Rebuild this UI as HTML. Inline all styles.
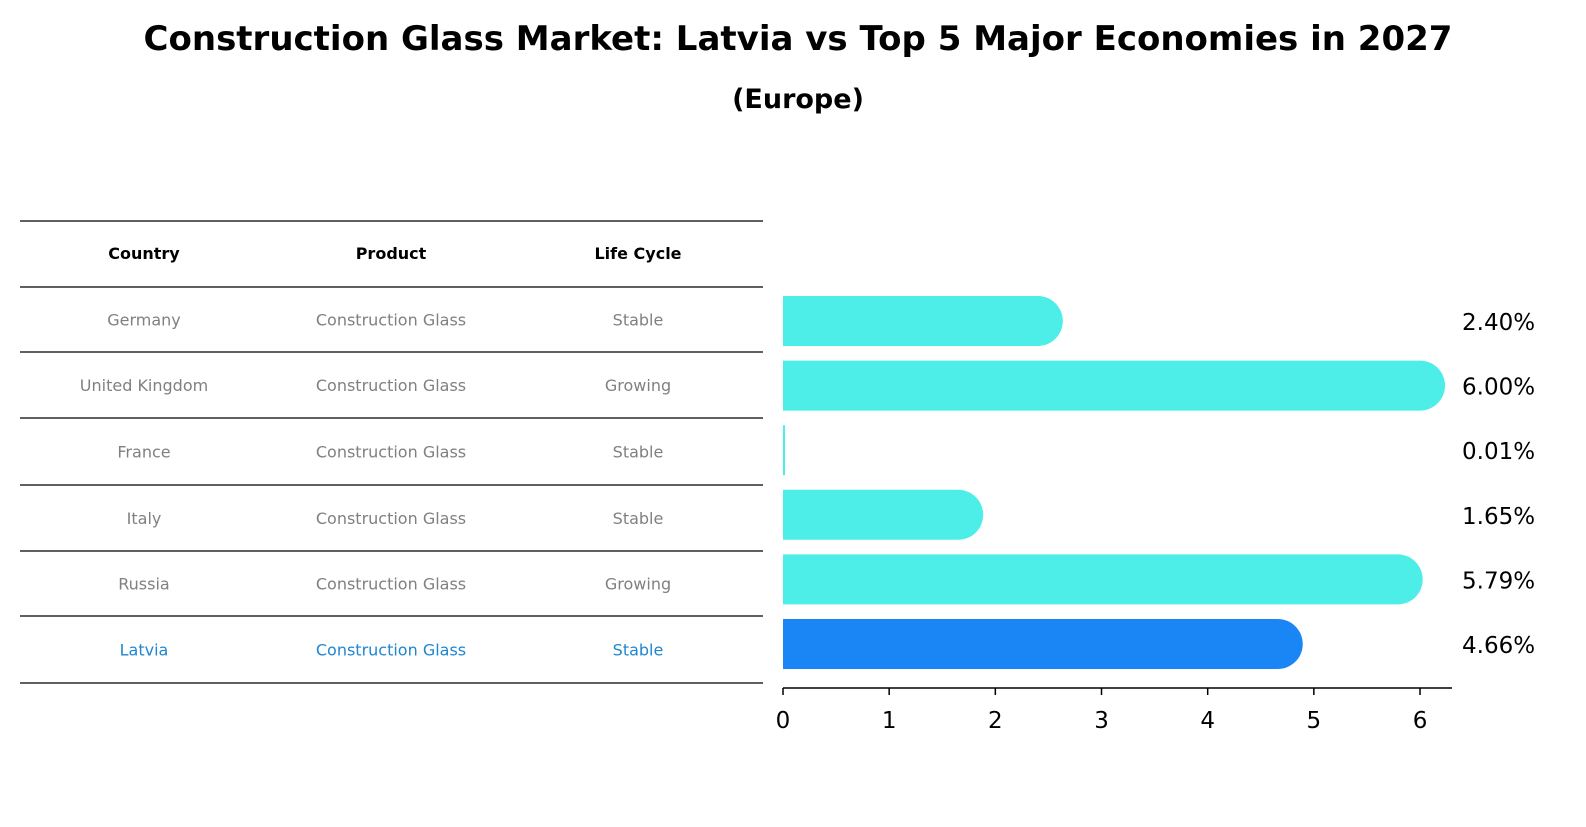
<!DOCTYPE html>
<html><head><meta charset="utf-8"><style>
body{margin:0;background:#fff;font-family:"DejaVu Sans","Liberation Sans",sans-serif;}
svg text{font-family:"DejaVu Sans","Liberation Sans",sans-serif;}
</style></head><body>
<svg id="c" width="1586" height="823" xmlns="http://www.w3.org/2000/svg">
<text x="798" y="50" text-anchor="middle" font-size="34" font-weight="bold">Construction Glass Market: Latvia vs Top 5 Major Economies in 2027</text>
<text x="798" y="108" text-anchor="middle" font-size="27" font-weight="bold">(Europe)</text>
<g id="table"></g>
<g id="bars"></g>
</svg>
<script>
const countries=["Germany","United Kingdom","France","Italy","Russia","Latvia"];
const products=["Construction Glass","Construction Glass","Construction Glass","Construction Glass","Construction Glass","Construction Glass"];
const lifecycles=["Stable","Growing","Stable","Stable","Growing","Stable"];
const values=[2.40,6.00,0.01,1.65,5.79,4.66];
const ticks=[0,1,2,3,4,5,6];
const NS="http://www.w3.org/2000/svg";
function mk(tag,attrs,parent,txt){const e=document.createElementNS(NS,tag);for(const k in attrs)e.setAttribute(k,attrs[k]);if(txt!==undefined)e.textContent=txt;parent.appendChild(e);return e;}
const tb=document.getElementById('table'),bg=document.getElementById('bars');
const lines=[221,287,352,418,485,551,616,683];
lines.forEach(y=>{const l=mk('line',{x1:20,x2:763,y1:y,y2:y,stroke:'#000','stroke-width':1.2},tb);

});
const cx=[144,391,638];
["Country","Product","Life Cycle"].forEach((h,i)=>{const t=mk('text',{x:cx[i],y:259,'text-anchor':'middle','font-size':16,'font-weight':'bold'},tb,h);

});
countries.forEach((c,r)=>{const y=(lines[r+1]+lines[r+2])/2+6;const col=c==="Latvia"?'#1f86d0':'#808080';
[c,products[r],lifecycles[r]].forEach((v,i)=>{const t=mk('text',{x:cx[i],y:y,'text-anchor':'middle','font-size':16,fill:col},tb,v);

});});
// axis
const x0=783,pxu=106.17;const X=v=>x0+v*pxu;
const yc=r=>321+r*64.6;const h=50,rad=25;
values.forEach((v,r)=>{const x1=X(v),top=yc(r)-h/2;const col=countries[r]==="Latvia"?'#1a85f5':'#4deee8';
let p;
if(x1-x0<2){p=mk('rect',{x:x0,y:top,width:2,height:h,fill:col},bg);}
else{p=mk('path',{d:`M${x0},${top}H${x1}A${rad},${rad} 0 0 1 ${x1},${top+h}H${x0}Z`,fill:col},bg);}


const t=mk('text',{x:1462,y:yc(r)+9,'font-size':23},bg,v.toFixed(2)+'%');

});
const ax=mk('line',{x1:x0,x2:1452,y1:688,y2:688,stroke:'#000','stroke-width':1.5},bg);


ticks.forEach(t=>{const tk=mk('line',{x1:X(t),x2:X(t),y1:688,y2:695,stroke:'#000','stroke-width':1.5},bg);


const l=mk('text',{x:X(t),y:728,'text-anchor':'middle','font-size':23},bg,String(t));

});
</script>
</body></html>
